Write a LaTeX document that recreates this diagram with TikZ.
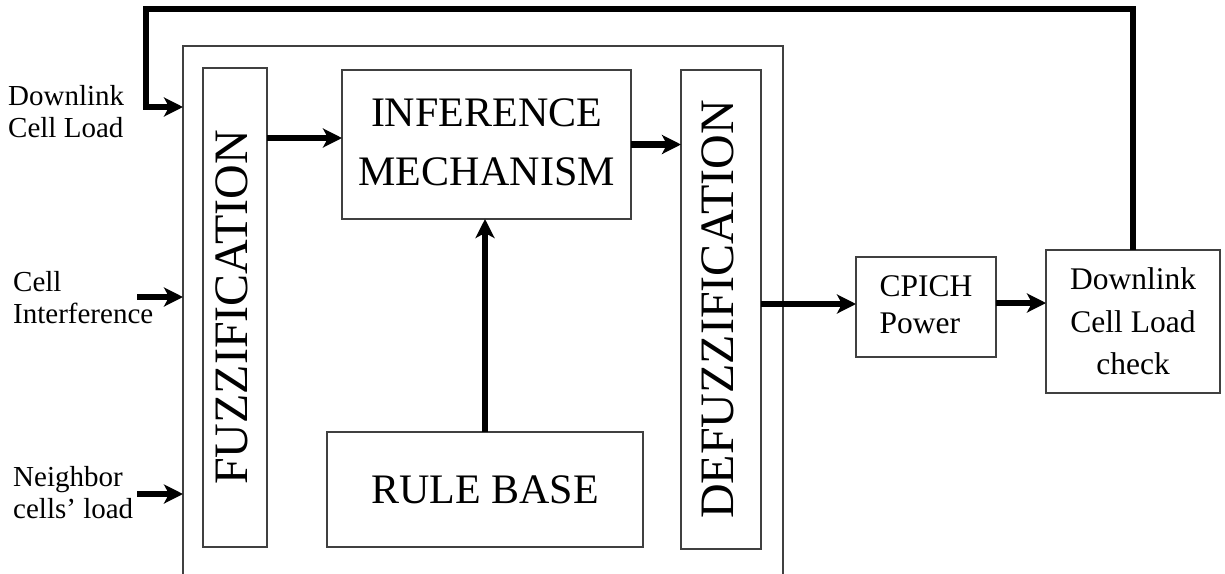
\documentclass[tikz,border=0pt]{standalone}
\usepackage{fontspec}
\setmainfont{Liberation Serif}
\usetikzlibrary{arrows.meta}
\begin{document}
\begin{tikzpicture}[x=1pt,y=-1pt,
  box/.style={draw=black!75, line width=1.3pt, rectangle, inner sep=0pt, outer sep=0pt},
  arr/.style={line width=6.5pt, -{Stealth[length=19pt,width=19pt,inset=5pt]}},
  feed/.style={line width=6.5pt, line join=miter},
  lbl/.style={font=\fontsize{29}{32}\selectfont, anchor=base west, inner sep=0pt},
  big/.style={font=\fontsize{42}{59}\selectfont, align=center, inner sep=0pt},
  tall/.style={font=\fontsize{48}{56}\selectfont, rotate=90, inner sep=0pt},
  small/.style={font=\fontsize{31.5}{37}\selectfont, inner sep=0pt},
]
\useasboundingbox (0,0) rectangle (1225,573);

% enclosing controller frame (runs off the lower edge)
\node[box] (outer) at (483,323) [minimum width=600pt, minimum height=554pt] {};

% fuzzy controller blocks
\node[box, minimum width=64pt, minimum height=479pt] (fuzz) at (235,307.5) {};
\node[tall] (fuzzt) at ([xshift=-3.5pt]fuzz.center) {FUZZIFICATION};

\node[box, minimum width=289pt, minimum height=149pt] (inf) at (486.5,144.5) {};
\node[big] (inft) at ([yshift=2.5pt]inf.center) {INFERENCE\\MECHANISM};

\node[box, minimum width=316pt, minimum height=115pt] (rule) at (485,489.5) {};
\node[big] (rulet) at (rule.center) {RULE BASE};

\node[box, minimum width=80pt, minimum height=479pt] (defuzz) at (721,309.5) {};
\node[tall] (defuzzt) at ([xshift=-3.5pt]defuzz.center) {DEFUZZIFICATION};

% output stages
\node[box, minimum width=140pt, minimum height=100pt] (cpich) at (926,307) {};
\node[small, align=left] (cpicht) at ([yshift=2pt]cpich.center) {CPICH\\Power};

\node[box, minimum width=174pt, minimum height=143pt] (chk) at (1133,321.5) {};
\node[small, align=center, font=\fontsize{31.5}{42.5}\selectfont] (chkt) at (chk.center) {Downlink\\Cell Load\\check};

% input labels
\node[lbl] (in1a) at (8,105) {Downlink};
\node[lbl] (in1b) at (8,137) {Cell Load};
\node[lbl] (in2a) at (13,291) {Cell};
\node[lbl] (in2b) at (13,323) {Interference};
\node[lbl] (in3a) at (13,486) {Neighbor};
\node[lbl] (in3b) at (13,518) {cells’ load};

% free ends of the input arrows and corners of the feedback loop
\coordinate (s2) at (137,297);
\coordinate (s3) at (137,494);
\coordinate (fbtop) at (146,9);
\coordinate (fbin) at (146,107);

% internal signal flow
\draw[arr] (fuzz.east |- 0,138) -- (inf.west |- 0,138);
\draw[arr] (inf.east) -- (defuzz.west |- inf.east);
\draw[arr] (rule.north) -- (rule.north |- inf.south);
\draw[arr] (defuzz.east |- 0,304) -- (cpich.west |- 0,304);
\draw[arr] (cpich.east |- 0,303) -- (chk.west |- 0,303);

% inputs
\draw[arr] (s2) -- (outer.west |- s2);
\draw[arr] (s3) -- (outer.west |- s3);

% feedback of the checked downlink load
\draw[feed] (chk.north) -- (chk.north |- fbtop) -- (fbtop) -- (fbin);
\draw[arr] ([xshift=-3.25pt]fbin) -- (outer.west |- fbin);
\end{tikzpicture}
\end{document}
